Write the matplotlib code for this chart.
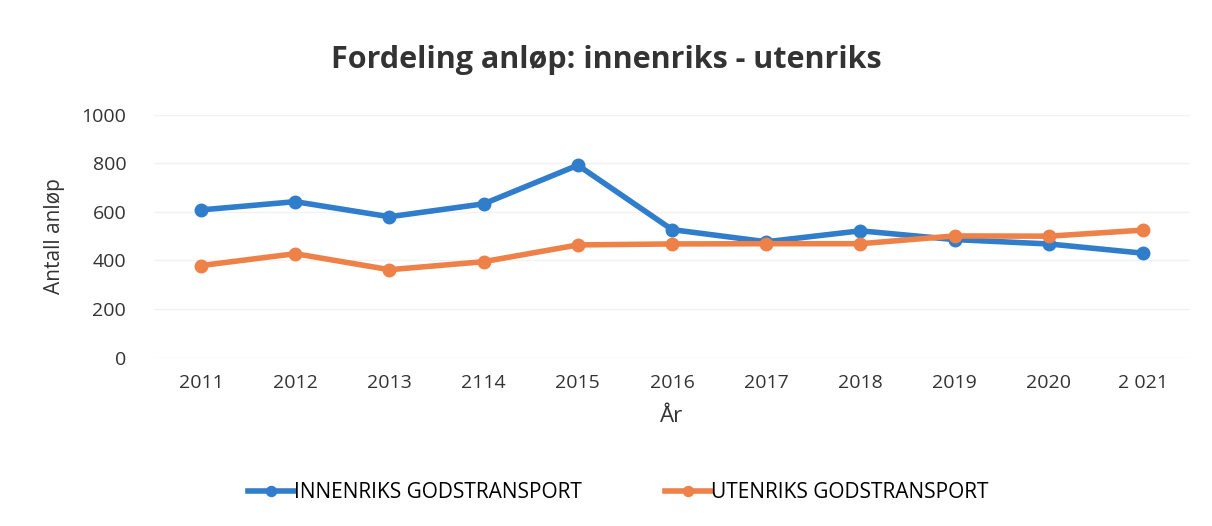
import matplotlib.pyplot as plt
import numpy as np

plt.rcParams['font.family'] = ['Open Sans', 'DejaVu Sans']

# data
years = ['2011', '2012', '2013', '2114', '2015', '2016', '2017', '2018', '2019', '2020', '2 021']
innenriks = [608, 642, 580, 633, 792, 527, 477, 522, 486, 468, 430]
utenriks = [379, 428, 362, 395, 464, 468, 469, 469, 501, 500, 525]

x = np.arange(len(years))

fig = plt.figure(figsize=(12.12, 5.26), dpi=100)
ax = fig.add_axes([0.127, 0.32, 0.855, 0.462])

ax.plot(x, innenriks, color='#2F7DCB', lw=4, marker='o', ms=9, label='INNENRIKS GODSTRANSPORT', zorder=3)
ax.plot(x, utenriks, color='#EE8148', lw=4, marker='o', ms=9, label='UTENRIKS GODSTRANSPORT', zorder=3)

ax.set_xlim(-0.5, len(years) - 0.5)
ax.set_ylim(0, 1000)
ax.set_yticks(range(0, 1001, 200))
ax.set_xticks(x)
ax.set_xticklabels(years)
ax.tick_params(length=0, labelsize=14, colors='#333333', pad=12)
ax.tick_params(axis='y', pad=20)
ax.grid(axis='y', color='#f2f2f2', lw=1)
for s in ax.spines.values():
    s.set_visible(False)

ax.set_xlabel('År', fontsize=16, color='#333333', labelpad=10)
ax.set_ylabel('Antall anløp', fontsize=15, color='#333333', labelpad=12)
fig.suptitle('Fordeling anløp: innenriks - utenriks', fontsize=22, fontweight='bold', color='#333333', y=0.915)

leg = fig.legend(loc='center', bbox_to_anchor=(0.51, 0.063), ncol=2, frameon=False, fontsize=15,
                 handlelength=2.2, columnspacing=4, handletextpad=0.0, markerscale=0.8)

plt.savefig('out.png', dpi=100)
